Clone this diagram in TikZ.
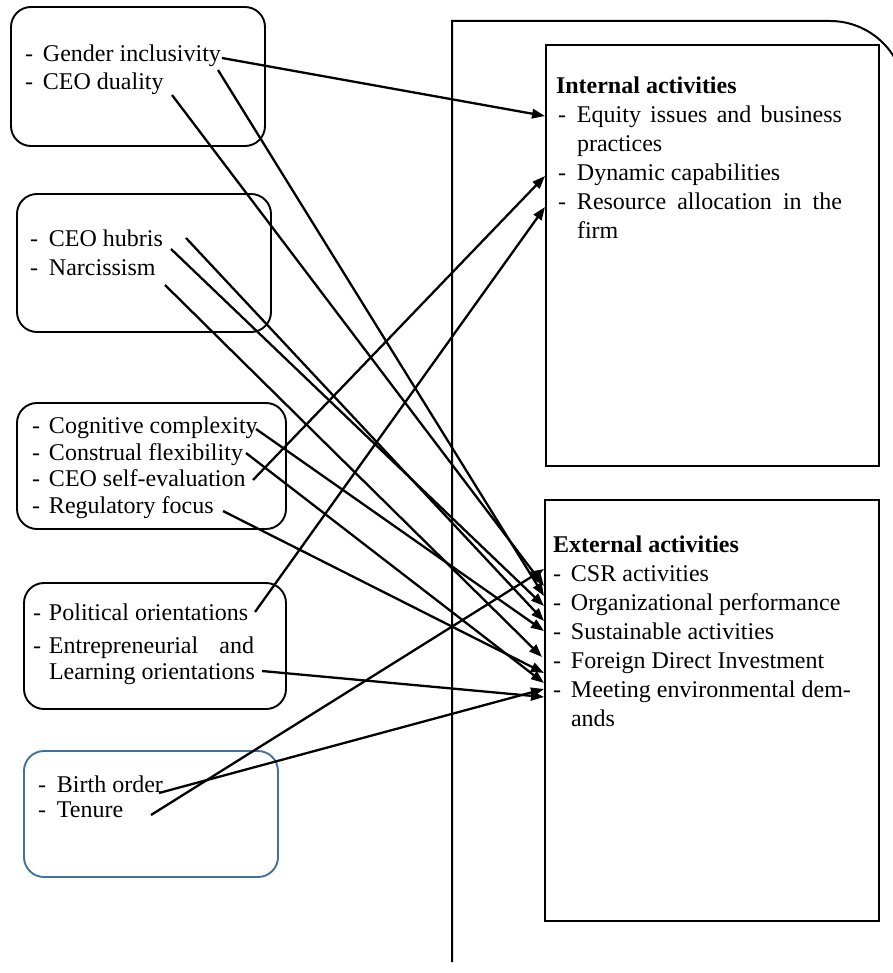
\documentclass[tikz,border=0pt]{standalone}
\usepackage{fontspec}
\setmainfont{Liberation Serif}
\usetikzlibrary{arrows.meta}
\definecolor{boxblue}{RGB}{65,113,156}
\begin{document}
\begin{tikzpicture}[x=1pt,y=-1pt,
  every node/.style={inner sep=0pt, outer sep=0pt},
  txt/.style={anchor=base west, font=\fontsize{24}{29}\selectfont},
  hd/.style={anchor=base west, font=\fontsize{24}{29}\selectfont\bfseries},
  rbox/.style={draw, line width=1.9pt, rounded corners=20pt, anchor=north west},
  sbox/.style={draw, line width=2.3pt, anchor=north west},
  conn/.style={line width=2.3pt, -{Triangle[length=13pt,width=9.5pt]}},
]
\useasboundingbox (0,0) rectangle (892,973);

% outer frame
\draw[line width=2pt] (452,962) -- (452,21) -- (830,21)
  .. controls (871.4,21) and (905,54.6) .. (905,96) -- (905,400);

% left rounded boxes
\node[rbox, minimum width=254pt, minimum height=139pt] (b1) at (11,7) {};
\node[rbox, minimum width=254pt, minimum height=138pt] (b2) at (17,194) {};
\node[rbox, minimum width=269pt, minimum height=126pt] (b3) at (17,403) {};
\node[rbox, minimum width=262pt, minimum height=126pt] (b4) at (24,583) {};
\node[rbox, draw=boxblue, minimum width=254pt, minimum height=126pt] (b5) at (24,751) {};

% right boxes
\node[sbox, minimum width=333pt, minimum height=421pt] (int) at (546,45) {};
\node[sbox, minimum width=334pt, minimum height=421pt] (ext) at (545,500) {};

% left texts
\node[txt] (gi) at (25,62) {\makebox[18pt][l]{-}Gender inclusivity};
\node[txt] (cd) at (25,90) {\makebox[18pt][l]{-}CEO duality};
\node[txt] (hu) at (30,247) {\makebox[19pt][l]{-}CEO hubris};
\node[txt] (na) at (30,276) {\makebox[19pt][l]{-}Narcissism};
\node[txt] (cc) at (32,433) {\makebox[17pt][l]{-}Cognitive complexity};
\node[txt] (cf) at (32,460) {\makebox[17pt][l]{-}Construal flexibility};
\node[txt] (se) at (32,486) {\makebox[17pt][l]{-}CEO self-evaluation};
\node[txt] (rf) at (32,513) {\makebox[17pt][l]{-}Regulatory focus};
\node[txt] (po) at (33,620) {\makebox[16pt][l]{-}Political orientations};
\node[txt] (en) at (33,653) {\makebox[16pt][l]{-}\makebox[205pt][s]{Entrepreneurial and}};
\node[txt] (lo) at (49,679) {Learning orientations};
\node[txt] (bo) at (38,792) {\makebox[19pt][l]{-}Birth order};
\node[txt] (te) at (38,817) {\makebox[19pt][l]{-}Tenure};

% internal texts
\node[hd] (ih) at (556,94) {Internal activities};
\node[txt] (i1) at (558,123) {\makebox[19pt][l]{-}\makebox[265pt][s]{Equity issues and business}};
\node[txt] (i1b) at (577,152) {practices};
\node[txt] (i2) at (558,181) {\makebox[19pt][l]{-}Dynamic capabilities};
\node[txt] (i3) at (558,210) {\makebox[19pt][l]{-}\makebox[265pt][s]{Resource allocation in the}};
\node[txt] (i3b) at (577,239) {firm};

% external texts
\node[hd] (eh) at (553,552) {External activities};
\node[txt] (e1) at (553,581) {\makebox[18pt][l]{-}CSR activities};
\node[txt] (e2) at (553,610) {\makebox[18pt][l]{-}Organizational performance};
\node[txt] (e3) at (553,639) {\makebox[18pt][l]{-}Sustainable activities};
\node[txt] (e4) at (553,668) {\makebox[18pt][l]{-}Foreign Direct Investment};
\node[txt] (e5) at (553,697) {\makebox[18pt][l]{-}Meeting environmental dem-};
\node[txt] (e5b) at (571,726) {ands};

% connector start points
\coordinate (sA) at (222,58);
\coordinate (sB) at (218,70);
\coordinate (sC) at (172,95);
\coordinate (sD) at (186,238);
\coordinate (sE) at (171,249);
\coordinate (sF) at (165,285);
\coordinate (sG) at (256,429);
\coordinate (sH) at (246,453);
\coordinate (sI) at (253,480);
\coordinate (sJ) at (223,511);
\coordinate (sK) at (255,612);
\coordinate (sL) at (262,671);
\coordinate (sM) at (159,793);
\coordinate (sN) at (151,815);

% connector end points
\coordinate (eA) at (545,116);
\coordinate (eI) at (545,176);
\coordinate (eK) at (545,207);
\coordinate (eN) at (544,569);
\coordinate (eC) at (544,586);
\coordinate (eB) at (544,596);
\coordinate (eE) at (544,606);
\coordinate (eD) at (544,621);
\coordinate (eG) at (544,631);
\coordinate (eF) at (542,657);
\coordinate (eJ) at (544,673);
\coordinate (eH) at (544,683);
\coordinate (eM) at (544,689);
\coordinate (eL) at (544,697);

\foreach \k in {A,B,C,D,E,F,G,H,I,J,K,L,M,N}
  \draw[conn] (s\k) -- (e\k);
\end{tikzpicture}
\end{document}
